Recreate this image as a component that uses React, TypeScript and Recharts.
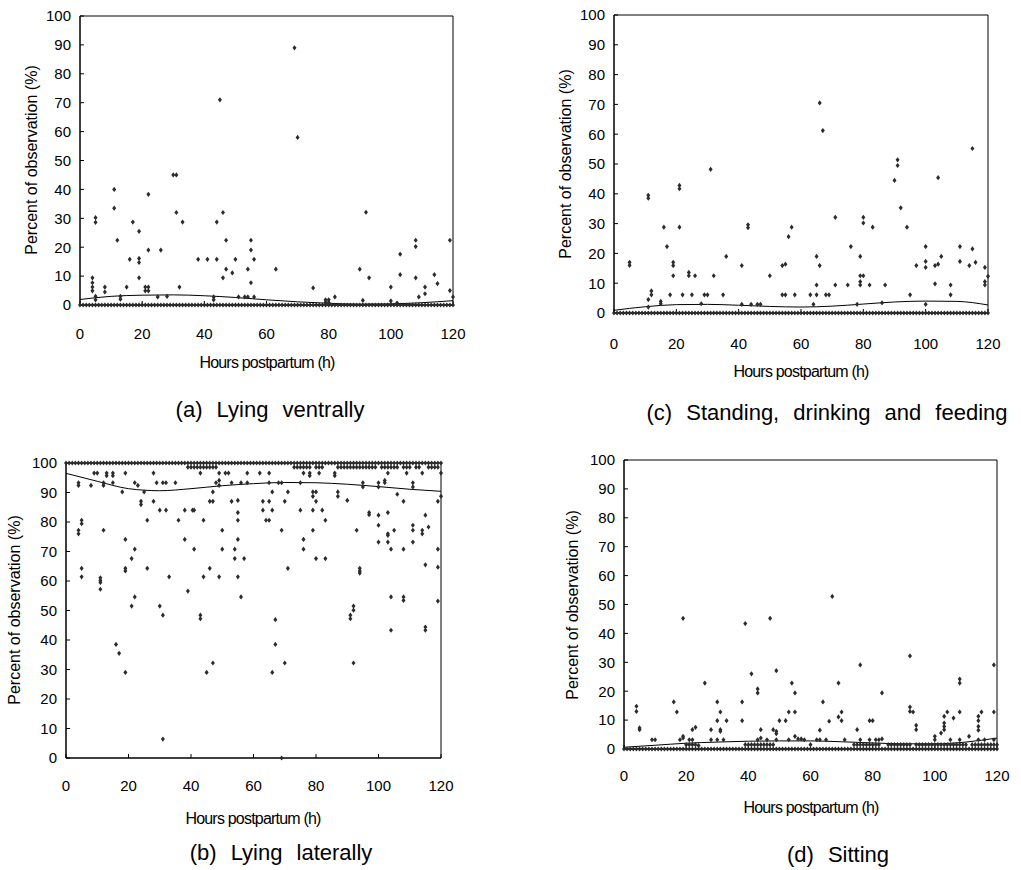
import React from "react";
import { ComposedChart, Scatter, Line, XAxis, YAxis, ReferenceArea } from "recharts";

const FONT = "'Liberation Sans', Arial, sans-serif";

const xTicks = [0, 20, 40, 60, 80, 100, 120];
const yTicks = [0, 10, 20, 30, 40, 50, 60, 70, 80, 90, 100];

// every hour observed 0..120 h
const hours = [
  0, 1, 2, 3, 4, 5, 6, 7, 8, 9, 10, 11, 12, 13, 14, 15, 16, 17, 18, 19, 20,
  21, 22, 23, 24, 25, 26, 27, 28, 29, 30, 31, 32, 33, 34, 35, 36, 37, 38, 39, 40,
  41, 42, 43, 44, 45, 46, 47, 48, 49, 50, 51, 52, 53, 54, 55, 56, 57, 58, 59, 60,
  61, 62, 63, 64, 65, 66, 67, 68, 69, 70, 71, 72, 73, 74, 75, 76, 77, 78, 79, 80,
  81, 82, 83, 84, 85, 86, 87, 88, 89, 90, 91, 92, 93, 94, 95, 96, 97, 98, 99, 100,
  101, 102, 103, 104, 105, 106, 107, 108, 109, 110, 111, 112, 113, 114, 115, 116, 117, 118, 119, 120,
];

type Pt = [number, number];

// (a) lying ventrally
const ventralPoints: Pt[] = [
  [4, 9.4], [4, 7.7], [4, 6.2], [4, 4.9], [5, 30.2], [5, 28.6], [5, 3], [5, 1.8], [8, 6.2], [8, 4.5],
  [11, 40], [11, 33.5], [12, 22.4], [13, 3], [13, 2], [15, 6.2], [16, 15.8], [17, 28.7], [19, 25.5],
  [19, 16.1], [19, 14.7], [19, 9.4], [21, 6.2], [21, 4.9], [22, 6.2], [22, 4.9], [22, 38.3], [22, 19],
  [25, 2.8], [26, 19], [28, 3], [30, 45], [31, 45], [31, 32], [32, 6.2], [33, 28.7], [38, 15.8],
  [41, 15.8], [43, 2.8], [43, 1.8], [44, 28.7], [44, 15.8], [45, 71], [46, 32], [46, 9.4], [47, 22.4],
  [47, 12.4], [49, 11.1], [50, 15.8], [51, 2.8], [53, 2.8], [54, 2.8], [54, 12.4], [55, 22.4], [55, 19],
  [55, 7.7], [56, 15.8], [56, 2.8], [63, 12.4], [69, 89], [70, 58], [75, 5.9], [79, 1.8], [79, 0.9],
  [80, 1.8], [80, 0.9], [82, 2.8], [90, 12.4], [91, 1.6], [92, 32.1], [93, 9.4], [100, 6.2], [100, 1.4],
  [102, 0.7], [103, 17.6], [103, 10.5], [108, 22.4], [108, 20.2], [108, 9.4], [109, 2.8], [111, 6.2],
  [111, 3.9], [114, 10.5], [115, 7.4], [119, 22.4], [119, 5], [120, 2.8],
];
const ventralCurve: Pt[] = [
  [0, 1.9], [10, 3], [20, 3.4], [30, 3.5], [40, 3.2], [50, 2.6], [60, 1.8], [70, 1.1], [80, 0.6],
  [90, 0.3], [100, 0.4], [110, 0.8], [120, 1.5],
];

// (c) standing, drinking and feeding
const standingPoints: Pt[] = [
  [5, 17], [5, 16], [11, 39.5], [11, 38.5], [11, 4.5], [11, 2], [12, 7.4], [12, 6.1], [15, 3.9], [15, 3.1],
  [16, 28.8], [17, 22.3], [18, 6.1], [19, 17], [19, 15.9], [19, 12.5], [21, 42.8], [21, 41.7], [21, 28.8],
  [22, 6.1], [24, 13.6], [24, 12.5], [25, 6.1], [26, 12.5], [28, 3.1], [29, 6.1], [30, 6.1], [31, 48.2],
  [32, 12.5], [35, 6.1], [36, 19], [41, 15.9], [41, 2.9], [43, 29.6], [43, 28.6], [44, 2.9], [46, 2.9],
  [47, 2.9], [50, 12.5], [54, 15.9], [55, 16.4], [54, 6.1], [55, 6.1], [56, 25.6], [57, 28.8], [58, 6.1],
  [63, 6.1], [64, 2.9], [65, 19], [65, 9.4], [65, 6.1], [66, 70.5], [67, 61.2], [66, 15.9], [68, 6.1],
  [69, 6.1], [71, 32.1], [71, 9.4], [75, 9.4], [76, 22.3], [78, 2.9], [79, 19], [79, 12.5], [80, 12.5],
  [79, 10.5], [79, 9.4], [80, 32.1], [80, 30.2], [82, 9.4], [83, 28.8], [86, 3.4], [87, 9.4], [90, 44.5],
  [91, 51.4], [91, 49.5], [92, 35.3], [94, 28.8], [95, 6.1], [97, 15.9], [100, 22.3], [100, 17.3],
  [100, 15.3], [100, 2.9], [103, 15.9], [104, 16.4], [103, 9.8], [104, 45.4], [105, 19], [108, 9.4],
  [108, 6.1], [111, 22.3], [111, 17.3], [114, 15.9], [115, 55.2], [115, 21.5], [116, 17], [119, 15.3],
  [119, 10.5], [119, 9.4], [120, 12.3],
];
const standingCurve: Pt[] = [
  [0, 0.9], [10, 2.1], [20, 2.8], [30, 2.9], [40, 2.6], [50, 2.2], [60, 2.0], [70, 2.3], [80, 3.0],
  [90, 3.7], [100, 4.0], [110, 3.9], [120, 2.7],
];

// (b) lying laterally
const lateralPoints: Pt[] = [
  [9, 96.6], [10, 96.6], [13, 96.6], [15, 96.6], [19, 96.6], [28, 96.6], [43, 96.6], [49, 96.6], [51, 96.6],
  [52, 96.6], [58, 96.6], [62, 96.6], [65, 96.6], [76, 96.6], [78, 96.6], [81, 96.6], [86, 96.6], [103, 96.6],
  [109, 96.6], [114, 96.6], [120, 96.6],
  [13, 95.7], [15, 95.7], [78, 95.7], [86, 95.7], [49, 94.1], [102, 94.1],
  [4, 93.3], [12, 93.3], [15, 93.3], [22, 93.3], [29, 93.3], [31, 93.3], [32, 93.3], [35, 93.3], [48, 93.3],
  [53, 93.3], [56, 93.3], [58, 93.3], [65, 93.3], [68, 93.3], [69, 93.3], [75, 93.3], [95, 93.3], [100, 93.3],
  [102, 93.3], [111, 93.3],
  [4, 92.4], [8, 92.4], [12, 92.4], [23, 92.4], [49, 92.4], [95, 91.9], [100, 91.9], [111, 91.9],
  [18, 90.2], [25, 90.2], [47, 90.2], [66, 90.2], [71, 90.2], [79, 90.2], [80, 90.2], [87, 90.2],
  [79, 88.7], [87, 88.7], [120, 88.7], [106, 89.4],
  [24, 87], [28, 87], [46, 87], [47, 87], [53, 87], [63, 87], [65, 87], [70, 87], [80, 87], [108, 87], [119, 87],
  [55, 87.3], [90, 87.3], [24, 85.9],
  [30, 84], [32, 84], [38, 84], [40.5, 84], [41, 84], [63, 84], [66, 84], [75, 84], [79, 84], [82, 84],
  [55, 83.2], [97, 83.2], [103, 83.2], [97, 82.5], [100, 82.3], [115, 82.3],
  [5, 80.6], [26, 80.6], [36, 80.6], [44, 80.6], [55, 80.6], [64, 80.6], [65, 80.6], [83, 80.6], [5, 79.4],
  [100, 78.9], [111, 78.9], [116, 78.3],
  [4, 77.2], [12, 77.2], [50, 77.2], [69, 77.2], [79, 77.2], [93, 77.2], [105, 77.2], [111, 77.2], [114, 77.2],
  [4, 76], [103, 76], [114, 76], [103, 75.5],
  [19, 74.1], [38, 74.1], [55, 74.1], [76, 74.1], [100, 73.2], [103, 73.2], [111, 73.2],
  [22, 70.8], [41, 70.8], [50, 70.8], [54, 70.8], [76, 70.8], [104, 70.8], [108, 70.8], [119, 70.8],
  [21, 67.6], [54, 67.6], [57, 67.6], [80, 67.6], [83, 67.6], [115, 65.5], [119, 64.7],
  [5, 64.3], [19, 64.3], [26, 64.3], [46, 64.3], [71, 64.3], [94, 64.3], [19, 63.4], [94, 63.4], [94, 62.7],
  [5, 61.4], [33, 61.4], [44, 61.4], [49, 61.4], [55, 61.4], [11, 61.1], [11, 60.2], [11, 59.5], [11, 57.2],
  [39, 56.6], [22, 54.6], [56, 54.6], [104, 54.6], [108, 54.6], [108, 53.4], [119, 53.2],
  [21, 51.5], [30, 51.5], [92, 51.5], [92, 50.1], [31, 48.4], [43, 48.4], [91, 48.4], [43, 47.2], [91, 47.2],
  [67, 46.9], [115, 44.4], [104, 43.3], [115, 43.3], [16, 38.5], [67, 38.5], [17, 35.5],
  [47, 32.2], [70, 32.2], [92, 32.2], [19, 29], [45, 29], [66, 29], [31, 6.4], [69, 0],
];
const lateralUpperRowX = [
  39, 40, 41, 42, 43, 44, 45, 46, 47, 48, 73, 74, 75, 76, 77, 78, 80, 81, 82, 87, 88, 89, 90, 91, 92, 93,
  94, 95, 96, 97, 98, 99, 101, 102, 103, 104, 105, 106, 108, 109, 110, 112, 113, 116, 117, 118, 119,
];
const lateralCurve: Pt[] = [
  [0, 96.5], [10, 93.8], [20, 91.3], [30, 90.6], [40, 91.3], [50, 92.3], [60, 93.0], [70, 93.4],
  [80, 93.3], [90, 92.8], [100, 92], [110, 91.1], [120, 90.4],
];

// (d) sitting
const sittingPoints: Pt[] = [
  [4, 14.8], [4, 13], [5, 7.3], [5, 6.7], [9, 3.2], [10, 3.2], [16, 16.3], [17, 12.8], [19, 45.2], [18, 3.2],
  [19, 3.8], [19, 4.4], [21, 3.2], [22, 3.2], [22, 6.7], [23, 7.5], [24, 1.2], [26, 22.8], [28, 6.7],
  [28, 3.2], [30, 16.3], [30, 9.8], [30, 3.2], [32, 3.2], [31, 12.8], [31, 6.7], [31, 6.1], [33, 9.8],
  [38, 16.3], [38, 9.8], [39, 43.4], [41, 26], [43, 20.8], [43, 19.4], [43, 3.2], [44, 3.8], [44, 6.7],
  [46, 3.2], [47, 45.2], [48, 6.7], [49, 6.1], [49, 5.3], [49, 27.1], [49, 3.2], [50, 9.8], [52, 9.8],
  [53, 12.8], [53, 3.2], [54, 22.8], [55, 19.4], [55, 12.8], [55, 4.4], [56, 3.5], [57, 3.5], [58, 3.2],
  [63, 6.5], [62, 3.2], [63, 3.2], [64, 16.3], [65, 3.2], [66, 9.6], [67, 52.8], [69, 22.8], [69, 11.1],
  [70, 12.8], [70, 9.8], [71, 3.2], [75, 6.7], [76, 29.1], [76, 3.2], [79, 9.8], [80, 9.8], [79, 3.2],
  [81, 3.2], [82, 3.2], [83, 3.5], [83, 19.4], [92, 32.2], [92, 14.5], [92, 13], [93, 12.8], [94, 8.2],
  [94, 6.7], [100, 4.4], [100, 3.2], [102, 5.5], [103, 11.3], [103, 9], [103, 7.8], [103, 6.7], [104, 12.8],
  [105, 3.2], [106, 10.7], [108, 24.2], [108, 22.8], [108, 12.8], [108, 3.2], [111, 4.4], [114, 11.3],
  [114, 9.8], [114, 7.8], [114, 6.5], [115, 12.8], [114, 3.2], [116, 3.2], [119, 29.1], [119, 12.8], [119, 3.2],
];
const sittingLowRowX = [
  20, 21, 22, 23, 39, 40, 41, 42, 43, 44, 45, 46, 47, 48, 60, 74, 75, 76, 77, 78, 79, 80, 81, 82, 85, 86,
  87, 88, 89, 90, 91, 92, 94, 95, 96, 97, 98, 99, 100, 101, 102, 103, 104, 105, 106, 107, 108, 109, 110,
  112, 113, 114, 115, 116, 117, 118, 119, 120,
];
const sittingCurve: Pt[] = [
  [0, 0.6], [10, 1.3], [20, 2.0], [30, 2.4], [40, 2.7], [50, 2.8], [60, 2.8], [70, 2.5], [80, 2.1],
  [90, 1.8], [100, 1.8], [110, 2.4], [120, 3.8],
];

const toRows = (pts: Pt[]) => pts.map(([x, y]) => ({ x, y }));
const row = (xs: number[], y: number) => xs.map((x) => ({ x, y }));

const Diamond = (props: any) => {
  const { cx, cy } = props;
  if (cx == null || cy == null) return null;
  return (
    <polygon
      points={`${cx},${cy - 2.6} ${cx + 2},${cy} ${cx},${cy + 2.6} ${cx - 2},${cy}`}
      fill="#2b2b2b"
    />
  );
};

type Box = { left: number; top: number; width: number; height: number };

function Panel({ box, points, curve, xTickGap }: { box: Box; points: { x: number; y: number }[]; curve: Pt[]; xTickGap: number }) {
  const tick = { fill: "#000", fontSize: 15, fontFamily: FONT };
  return (
    <div style={{ position: "absolute", left: box.left - 60, top: box.top - 10 }}>
      <ComposedChart
        width={box.width + 80}
        height={box.height + 50}
        margin={{ top: 10, right: 20, left: 0, bottom: 0 }}
      >
        <XAxis
          type="number"
          dataKey="x"
          domain={[0, 120]}
          ticks={xTicks}
          interval={0}
          height={40}
          tickSize={-4}
          tickMargin={xTickGap}
          axisLine={{ stroke: "#000" }}
          tickLine={{ stroke: "#000" }}
          tick={tick}
        />
        <YAxis
          type="number"
          dataKey="y"
          domain={[0, 100]}
          ticks={yTicks}
          interval={0}
          width={60}
          tickSize={-4}
          tickMargin={13}
          axisLine={{ stroke: "#000" }}
          tickLine={{ stroke: "#000" }}
          tick={tick}
        />
        <ReferenceArea x1={0} x2={120} y1={0} y2={100} fill="none" stroke="#000" strokeWidth={1} />
        <Scatter data={points} dataKey="y" shape={Diamond} isAnimationActive={false} />
        <Line
          data={toRows(curve)}
          dataKey="y"
          type="monotone"
          dot={false}
          activeDot={false}
          stroke="#000"
          strokeWidth={1}
          isAnimationActive={false}
        />
      </ComposedChart>
    </div>
  );
}

const textAt = (x: number, y: number, size: number, extra: React.CSSProperties = {}): React.CSSProperties => ({
  position: "absolute",
  left: x,
  top: y,
  transform: "translate(-50%, -50%)",
  whiteSpace: "pre",
  fontFamily: FONT,
  fontSize: size,
  color: "#000",
  lineHeight: 1,
  ...extra,
});

const yTitle = "Percent of observation (%)";
const xTitle = "Hours postpartum (h)";

export default function App() {
  const xt = { letterSpacing: -0.8 };
  const yt = { transform: "translate(-50%, -50%) rotate(-90deg)" };
  const cap = { wordSpacing: 8 };
  return (
    <div style={{ position: "absolute", left: 0, top: 0, width: 1021, height: 870, background: "#fff" }}>
      <Panel
        box={{ left: 80, top: 16, width: 373, height: 289 }}
        points={[...toRows(ventralPoints), ...row(hours, 0)]}
        curve={ventralCurve}
        xTickGap={27}
      />
      <Panel
        box={{ left: 614, top: 15, width: 374, height: 298 }}
        points={[...toRows(standingPoints), ...row(hours, 0)]}
        curve={standingCurve}
        xTickGap={29}
      />
      <Panel
        box={{ left: 66, top: 463, width: 375, height: 295 }}
        points={[...toRows(lateralPoints), ...row(lateralUpperRowX, 98.6), ...row(hours, 100)]}
        curve={lateralCurve}
        xTickGap={26}
      />
      <Panel
        box={{ left: 624, top: 460, width: 373, height: 289 }}
        points={[...toRows(sittingPoints), ...row(sittingLowRowX, 1.5), ...row(hours, 0)]}
        curve={sittingCurve}
        xTickGap={25}
      />

      <div style={textAt(32, 160, 16, yt)}>{yTitle}</div>
      <div style={textAt(566, 164, 16, yt)}>{yTitle}</div>
      <div style={textAt(15, 610, 16, yt)}>{yTitle}</div>
      <div style={textAt(573, 605, 16, yt)}>{yTitle}</div>

      <div style={textAt(267, 363, 16, xt)}>{xTitle}</div>
      <div style={textAt(801, 372, 16, xt)}>{xTitle}</div>
      <div style={textAt(253, 819, 16, xt)}>{xTitle}</div>
      <div style={textAt(811, 808, 16, xt)}>{xTitle}</div>

      <div style={textAt(270, 410, 22, cap)}>(a) Lying ventrally</div>
      <div style={textAt(827, 413, 22, cap)}>(c) Standing, drinking and feeding</div>
      <div style={textAt(281, 853, 22, cap)}>(b) Lying laterally</div>
      <div style={textAt(838, 855, 22, cap)}>(d) Sitting</div>
    </div>
  );
}
